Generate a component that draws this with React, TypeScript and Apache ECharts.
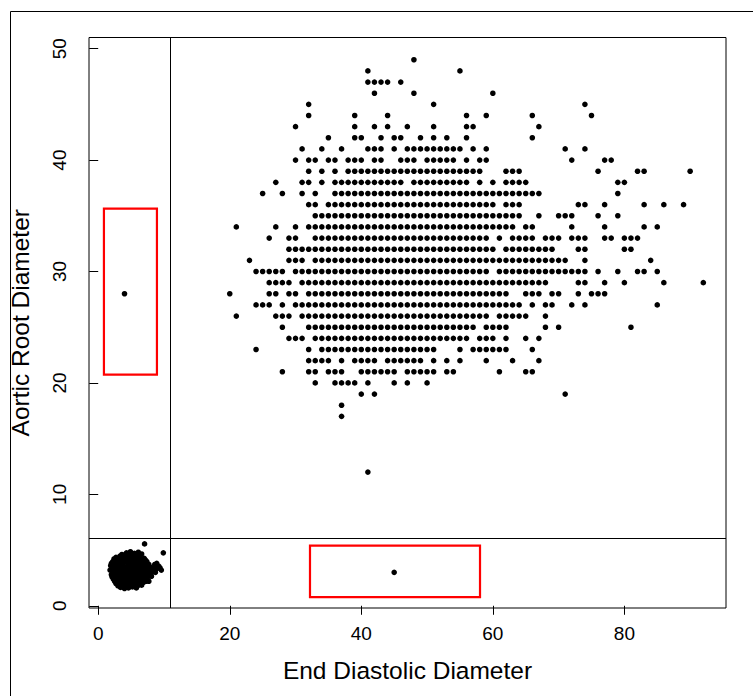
import React, { useEffect, useRef } from "react";
import * as echarts from "echarts";

// Aortic root diameter rows (integer values) and the End Diastolic Diameter values observed in each row
const rowAR: number[] = [49, 48, 47, 46, 45, 44, 43, 42, 41, 40, 39, 38, 37, 36, 35, 34, 33, 32, 31, 30, 29, 28, 27, 26, 25, 24, 23, 22, 21, 20, 19, 18, 17, 12];
const rowEDD: string[] = [
  "48",
  "41,55",
  "41-44,46",
  "42,48,60",
  "32,51,74",
  "32,39,44,56,59,66,75",
  "30,39,42,44,47,51,56,57,67",
  "35,39,40,43,45,46,49,51,53,56,66",
  "31,34,37,41-43,45,47-55,57,59,71,74",
  "30,32,33,35,36,38-40,42,43,46-48,50-54,56,58,59,72,77,78",
  "32,34,36,38-58,62-64,76,82,83,90",
  "27,31,32,34,36-46,48-56,58,60,62-65,79,80",
  "25,28,31,33,36-67,79",
  "32,33,35-60,62-64,73,74,77,83,86,89",
  "33-64,67,70-72,76,79",
  "21,27,30,32-63,65,66,72,77,83,85",
  "26,29,30,33-59,61,63-66,68-70,72-74,77,78,80-82",
  "29-60,62-69,73,74,80,81",
  "23,29-31,33-71,74,84",
  "24-28,30-59,61-74,76,79,82,83,85",
  "26-29,31-68,73,74,77,80,86,92",
  "20,26,27,29,30,32-62,65-67,69,70,73,75-77",
  "24-26,28,30-64,66,68,69,72,74,85",
  "21,27-29,31-59,61-65,68",
  "28,32-57,59-62,68,70,81",
  "29-31,33-56,58-60,62,65,67",
  "24,32,34-51,55,57-62,66",
  "32-35,37,39-42,44-49,51,53,55,59,63,67",
  "28,32,33,35-37,40-45,47-51,53,54,61,65,66",
  "33,36-39,41,45,47,50",
  "40,42,71",
  "37",
  "37",
  "41",
];

// isolated points inside the red boxes
const singleEDD: number[] = [4, 45];
const singleAR: number[] = [28, 3];

// the dense low cluster (both measures small)
const clusterEDD: number[] = [
  4.3, 4.9, 5.5, 6.1, 6.6,
  3.6, 4.2, 5.0, 5.6, 6.2,
  2.7, 3.3, 3.9, 4.6, 5.2, 5.8, 6.4, 7.0,
  2.4, 3.0, 3.6, 4.3, 4.9, 5.5, 6.1, 6.7, 7.2,
  2.2, 2.8, 3.4, 4.0, 4.5, 5.1, 5.7, 6.3, 6.9, 7.4,
  2.0, 2.7, 3.3, 3.9, 4.6, 5.2, 5.9, 6.5, 7.1, 7.7, 8.9,
  1.9, 2.5, 3.1, 3.7, 4.3, 4.9, 5.5, 6.1, 6.7, 7.3, 7.9, 8.6, 9.2,
  2.1, 2.8, 3.4, 4.0, 4.6, 5.2, 5.8, 6.4, 7.0, 7.6, 8.2, 8.8, 9.4,
  1.8, 2.4, 3.0, 3.6, 4.2, 4.8, 5.4, 6.0, 6.6, 7.2, 7.8, 8.4, 9.0, 9.6,
  2.2, 2.8, 3.4, 4.0, 4.6, 5.2, 5.8, 6.4, 7.0, 7.6, 8.2,
  2.0, 2.6, 3.2, 3.8, 4.4, 5.0, 5.6, 6.2, 6.8, 7.4, 8.0, 8.7,
  2.1, 2.7, 3.3, 3.9, 4.5, 5.1, 5.7, 6.3, 6.9, 7.5, 8.1,
  2.3, 2.9, 3.5, 4.1, 4.7, 5.3, 5.9, 6.5, 7.1, 7.7,
  2.5, 3.1, 3.7, 4.3, 4.9, 5.5, 6.1, 6.7, 7.3,
  2.7, 3.3, 3.9, 4.5, 5.1, 5.7, 6.3, 6.9,
  3.0, 3.6, 4.2, 4.8, 5.4, 6.0, 6.6,
  3.4, 4.0, 4.6, 5.2, 5.8,
  7.05, 9.9,
];
const clusterAR: number[] = [
  4.75, 4.85, 4.7, 4.8, 4.65,
  4.6, 4.6, 4.6, 4.55, 4.6,
  4.35, 4.45, 4.5, 4.4, 4.3, 4.45, 4.35, 4.25,
  4.2, 4.2, 4.25, 4.2, 4.2, 4.15, 4.2, 4.1, 4.1,
  3.95, 4.05, 3.9, 4.1, 3.95, 4.05, 3.9, 4.0, 3.85, 3.95,
  3.8, 3.8, 3.75, 3.85, 3.8, 3.8, 3.75, 3.8, 3.75, 3.7, 3.8,
  3.6, 3.7, 3.55, 3.65, 3.5, 3.7, 3.55, 3.65, 3.5, 3.6, 3.45, 3.7, 3.55,
  3.4, 3.4, 3.35, 3.4, 3.35, 3.45, 3.4, 3.35, 3.4, 3.35, 3.4, 3.45, 3.4,
  3.2, 3.1, 3.25, 3.15, 3.3, 3.1, 3.25, 3.1, 3.2, 3.05, 3.25, 3.15, 3.35, 3.2,
  3.0, 3.05, 2.95, 3.0, 3.0, 2.95, 3.0, 2.95, 3.0, 2.95, 3.05,
  2.8, 2.9, 2.75, 2.85, 2.7, 2.9, 2.8, 2.7, 2.85, 2.75, 2.9, 3.0,
  2.6, 2.6, 2.6, 2.55, 2.6, 2.65, 2.6, 2.55, 2.6, 2.55, 2.65,
  2.4, 2.35, 2.45, 2.3, 2.5, 2.35, 2.45, 2.3, 2.4, 2.2,
  2.2, 2.2, 2.15, 2.2, 2.15, 2.2, 2.25, 2.2, 2.2,
  2.0, 1.95, 2.05, 1.9, 2.05, 1.95, 2.0, 2.1,
  1.8, 1.8, 1.75, 1.8, 1.85, 1.8, 1.85,
  1.65, 1.55, 1.6, 1.7, 1.6,
  5.55, 4.75,
];

// tick labels
const xTicks: number[] = [0, 20, 40, 60, 80];
const yTicks: number[] = [0, 10, 20, 30, 40, 50];

// divider lines and highlighted boxes (data units)
const dividerEDD = 10.9;
const dividerAR = 6.1;
const boxEDD: [number, number][] = [[0.87, 8.93], [32.2, 58.05]];
const boxAR: [number, number][] = [[35.64, 20.74], [5.39, 0.78]];

function expand(s: string): number[] {
  const out: number[] = [];
  s.split(",").forEach((part) => {
    const bits = part.split("-").map(Number);
    if (bits.length === 1) out.push(bits[0]);
    else for (let v = bits[0]; v <= bits[1]; v++) out.push(v);
  });
  return out;
}

export default function App() {
  const ref = useRef<HTMLDivElement>(null);
  useEffect(() => {
    if (!ref.current) return;
    const chart = echarts.init(ref.current, null, { renderer: "svg" });
    const pts: number[][] = [];
    rowAR.forEach((y, i) => expand(rowEDD[i]).forEach((x) => pts.push([x, y])));
    singleEDD.forEach((x, i) => pts.push([x, singleAR[i]]));
    clusterEDD.forEach((x, i) => pts.push([x, clusterAR[i]]));
    const font = "'Liberation Sans', Arial, Helvetica, sans-serif";
    chart.setOption({
      animation: false,
      backgroundColor: "#fff",
      grid: {
        left: 89,
        top: 37.5,
        width: 637,
        height: 570.5,
        show: true,
        borderColor: "#000",
        borderWidth: 1,
        backgroundColor: "transparent",
      },
      xAxis: {
        type: "value",
        min: -1.4,
        max: 95.45,
        axisLine: { show: false },
        splitLine: { show: false },
        axisTick: { show: true, length: 9, customValues: xTicks, lineStyle: { color: "#000" } },
        axisLabel: { customValues: xTicks, fontSize: 19, color: "#000", margin: 16, fontFamily: font },
        name: "End Diastolic Diameter",
        nameLocation: "middle",
        nameGap: 50,
        nameTextStyle: { fontSize: 24.5, color: "#000", fontFamily: font },
      },
      yAxis: {
        type: "value",
        min: -0.2,
        max: 51.0,
        axisLine: { show: false },
        splitLine: { show: false },
        axisTick: { show: true, length: 9, customValues: yTicks, lineStyle: { color: "#000" } },
        axisLabel: { customValues: yTicks, fontSize: 19, color: "#000", margin: 20, rotate: 90, fontFamily: font },
        name: "Aortic Root Diameter",
        nameLocation: "middle",
        nameGap: 56,
        nameTextStyle: { fontSize: 24.5, color: "#000", fontFamily: font },
      },
      graphic: [
        { type: "rect", z: 100, shape: { x: 0, y: 0, width: 10.5, height: 696 }, style: { fill: "#fff" } },
        { type: "rect", z: 101, shape: { x: 10.5, y: 11.5, width: 800, height: 800 }, style: { fill: "none", stroke: "#000", lineWidth: 1 } },
      ],
      series: [
        {
          type: "scatter",
          data: pts,
          symbolSize: 5.6,
          itemStyle: { color: "#000", opacity: 1 },
          silent: true,
          markLine: {
            silent: true,
            symbol: ["none", "none"],
            label: { show: false },
            lineStyle: { color: "#000", width: 1, type: "solid" },
            data: [{ xAxis: dividerEDD }, { yAxis: dividerAR }],
          },
          markArea: {
            silent: true,
            itemStyle: { color: "rgba(0,0,0,0)", borderColor: "#ff0000", borderWidth: 2.2 },
            data: boxEDD.map((b, i) => [
              { coord: [b[0], boxAR[i][0]] },
              { coord: [b[1], boxAR[i][1]] },
            ]),
          },
        },
      ],
    });
    return () => chart.dispose();
  }, []);
  return (
    <div
      ref={ref}
      style={{ position: "absolute", left: 0, top: 0, width: 753, height: 696 }}
    />
  );
}
